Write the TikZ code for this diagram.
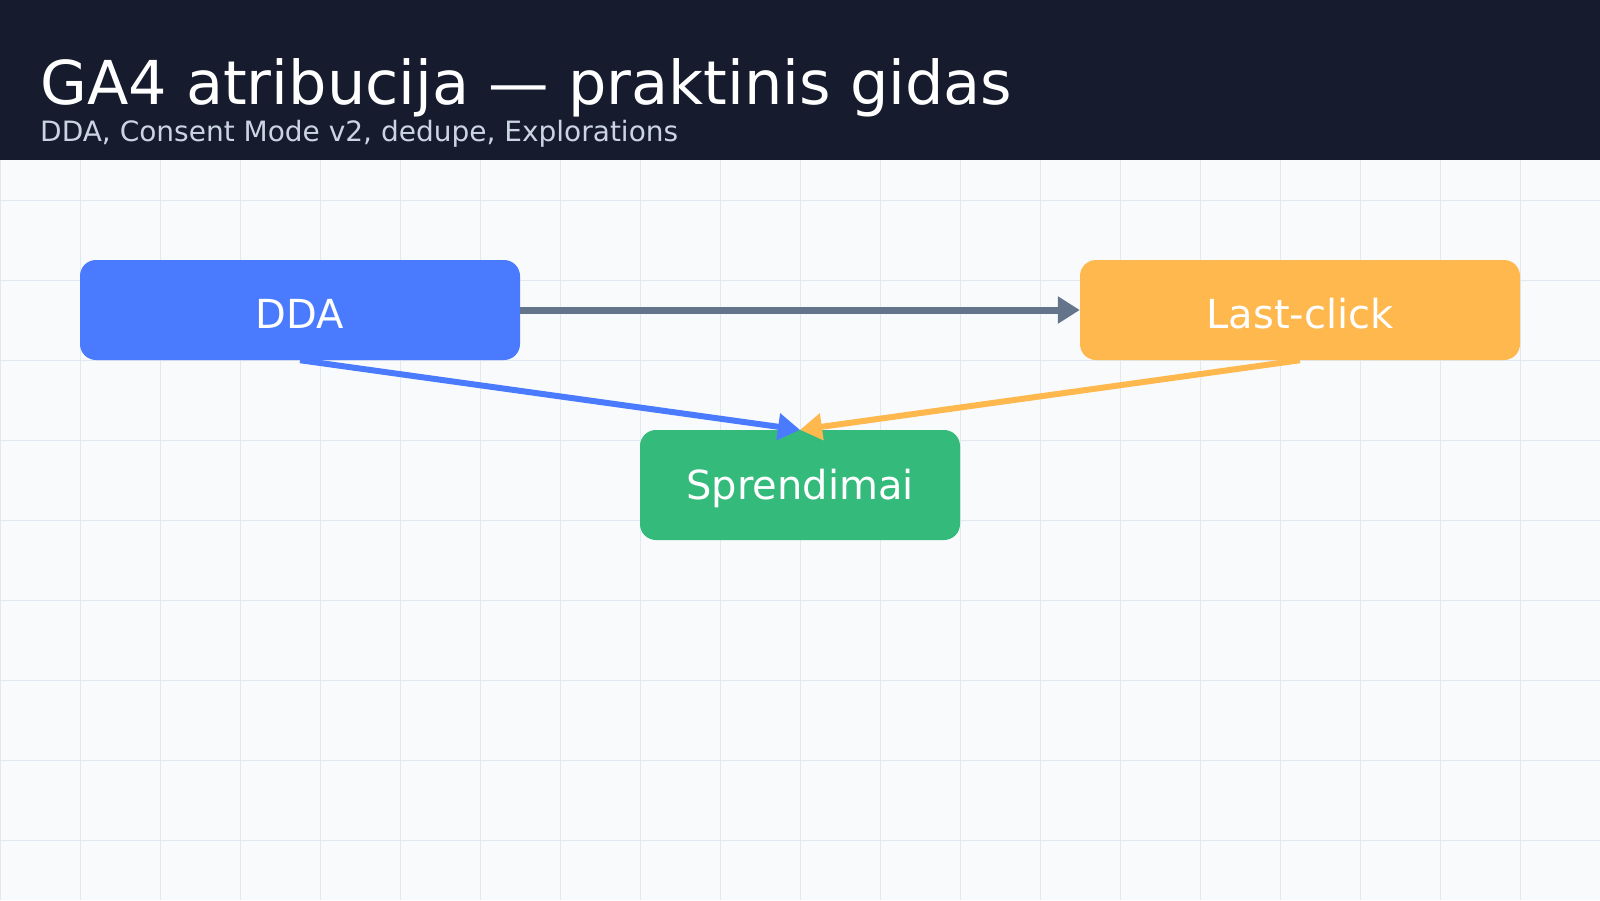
\documentclass[tikz,border=0pt]{standalone}
\usepackage{fontspec}
\setmainfont{DejaVu Sans}
\usetikzlibrary{arrows.meta}
\definecolor{hdr}{HTML}{161B2E}
\definecolor{bg}{HTML}{F8FAFC}
\definecolor{gridc}{HTML}{E2E8F0}
\definecolor{subc}{HTML}{CBD5E1}
\definecolor{bluec}{HTML}{4A7BFF}
\definecolor{orangec}{HTML}{FFB84D}
\definecolor{greenc}{HTML}{34BB7B}
\definecolor{grayc}{HTML}{64748B}
\tikzset{
  box/.style={rounded corners=16pt, inner sep=0pt, text=white, font=\fontsize{40}{44}\selectfont, text depth=0pt},
  conn/.style={line width=6pt, -{Triangle[length=22pt,width=26pt]}},
}
\begin{document}
\begin{tikzpicture}[x=1pt,y=-1pt]
\useasboundingbox (0,0) rectangle (1600,900);
\fill[bg] (0,0) rectangle (1600,900);
\foreach \i in {0,...,20} \draw[gridc, line width=1pt] (\i*80,160) -- (\i*80,900);
\foreach \j in {200,280,...,840} \draw[gridc, line width=1pt] (0,\j) -- (1600,\j);
\fill[hdr] (0,0) rectangle (1600,160);
\node[anchor=base west, text=white, font=\fontsize{60.5}{64}\selectfont, inner sep=0pt] (title) at (40,104) {GA4 atribucija — praktinis gidas};
\node[anchor=base west, text=subc, font=\fontsize{28}{30}\selectfont, inner sep=0pt] (sub) at (40,141) {DDA, Consent Mode v2, dedupe, Explorations};
\node[box, fill=bluec, minimum width=440pt, minimum height=100pt, text height=36pt] (dda) at (300,310) {DDA};
\node[box, fill=orangec, minimum width=440pt, minimum height=100pt, text height=36pt] (lc) at (1300,310) {Last-click};
\node[box, fill=greenc, minimum width=320pt, minimum height=110pt, text height=28pt] (sp) at (800,485) {Sprendimai};
\draw[conn, grayc, line width=7pt] (dda.east) -- (lc.west);
\draw[conn, bluec] (dda.south) -- (sp.north);
\draw[conn, orangec] (lc.south) -- (sp.north);
\end{tikzpicture}
\end{document}
